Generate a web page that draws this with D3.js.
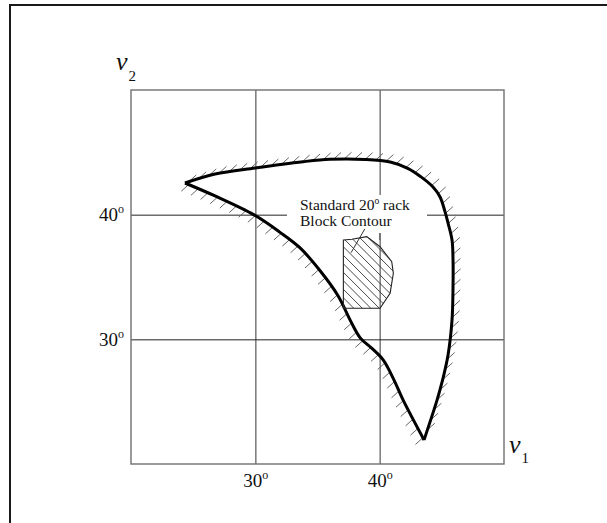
<!DOCTYPE html>
<html>
<head>
<meta charset="utf-8">
<script src="https://cdn.jsdelivr.net/npm/d3@7"></script>
<style>
  html, body { margin: 0; padding: 0; background: #fff; }
  svg { display: block; }
  text { font-family: "Liberation Serif", "DejaVu Serif", serif; fill: #111; }
</style>
</head>
<body>
<svg id="chart" width="607" height="523"></svg>
<script>
// Axis ranges and tick values (degrees)
const xDomain = [20, 50];
const yDomain = [20, 50];
const xTicks = [30, 40];
const yTicks = [30, 40];

// Feasible region boundary: upper / right edge, from the left tip to the bottom tip
const upperX = [24.34, 26.76, 29.98, 33.84, 36.01, 38.83, 40.85, 42.30, 43.30, 44.29, 44.86, 45.26, 45.50, 45.82, 45.90, 45.90, 45.82, 45.50, 45.02, 44.62, 43.57];
const upperY = [42.54, 43.26, 43.75, 44.25, 44.44, 44.43, 44.22, 43.70, 43.05, 42.22, 41.42, 40.22, 39.33, 37.97, 36.37, 34.20, 31.56, 28.75, 26.58, 25.14, 21.93];

// Lower / left edge, from the left tip to the bottom tip
const lowerX = [24.34, 26.76, 29.90, 31.99, 33.60, 35.21, 36.65, 37.70, 38.45, 39.40, 40.28, 41.10, 41.88, 43.57];
const lowerY = [42.54, 41.50, 39.98, 38.58, 37.33, 35.50, 33.50, 31.40, 30.10, 29.25, 28.35, 26.85, 25.14, 21.93];

// Standard 20° rack block contour
const blockX = [37.08, 37.76, 38.96, 40.03, 40.97, 41.10, 40.84, 40.03, 37.08];
const blockY = [37.97, 38.03, 38.24, 37.43, 36.23, 35.30, 33.70, 32.49, 32.49];

// Leader line from the annotation to the block
const leaderX = [38.80, 37.70];
const leaderY = [38.85, 36.95];

const labelLines = ["Standard 20", "Block Contour"];

const svg = d3.select("#chart");

// outer frame (partially off the right/bottom edges)
svg.append("path")
  .attr("d", "M10,530 L10,5 L615,5")
  .attr("fill", "none").attr("stroke", "#1a1a1a").attr("stroke-width", 2);

const margin = { left: 131, top: 90 };
const W = 373, H = 374;

const x = d3.scaleLinear().domain(xDomain).range([0, W]);
const y = d3.scaleLinear().domain(yDomain).range([H, 0]);

const g = svg.append("g").attr("transform", `translate(${margin.left},${margin.top})`);

// grid via axes
const xAxis = d3.axisBottom(x).tickValues(xTicks).tickSize(-H).tickPadding(8).tickFormat(d => d);
const yAxis = d3.axisLeft(y).tickValues(yTicks).tickSize(-W).tickPadding(7).tickFormat(d => d);

const gx = g.append("g").attr("transform", `translate(0,${H})`).call(xAxis);
const gy = g.append("g").call(yAxis);
[gx, gy].forEach(a => a.select(".domain").remove());
gx.selectAll(".tick line").attr("stroke", "#6f6f6f").attr("stroke-width", 1.4);
gy.selectAll(".tick line").attr("stroke", "#222").attr("stroke-width", 1);

function degreeLabel(sel) {
  sel.each(function(d) {
    const t = d3.select(this);
    t.text(null).attr("font-size", 19).attr("fill", "#111")
      .attr("font-family", "Liberation Serif, serif");
    t.append("tspan").text(d);
    t.append("tspan").text("o").attr("font-size", 12).attr("dy", -8);
  });
}
gx.selectAll(".tick text").call(degreeLabel).attr("dy", null).attr("y", 23);
gy.selectAll(".tick text").call(degreeLabel).attr("dy", "0.32em").attr("x", -7);

// plot frame
g.append("rect").attr("x", 0).attr("y", 0).attr("width", W).attr("height", H)
  .attr("fill", "none").attr("stroke", "#6f6f6f").attr("stroke-width", 1.4);

// boundary curves
const line = d3.line().x(d => x(d[0])).y(d => y(d[1])).curve(d3.curveCatmullRom.alpha(0.5));
const upper = upperX.map((v, i) => [v, upperY[i]]);
const lower = lowerX.map((v, i) => [v, lowerY[i]]);

const hatchG = g.append("g");
const curveG = g.append("g");

function drawEdge(pts, side) {
  const p = curveG.append("path").attr("d", line(pts))
    .attr("fill", "none").attr("stroke", "#000").attr("stroke-width", 3)
    .attr("stroke-linejoin", "round");
  const node = p.node();
  const len = node.getTotalLength();
  const step = 10.5, L = 10;
  for (let s = 4; s < len - 2; s += step) {
    const a = node.getPointAtLength(Math.max(0, s - 1));
    const b = node.getPointAtLength(Math.min(len, s + 1));
    const tx = b.x - a.x, ty = b.y - a.y;
    const m = Math.hypot(tx, ty) || 1;
    // outward normal
    const nx = side * ty / m, ny = -side * tx / m;
    let dx = 0.74, dy = -0.67;
    if (nx * dx + ny * dy < 0) { dx = -dx; dy = -dy; }
    const c = node.getPointAtLength(s);
    hatchG.append("line")
      .attr("x1", c.x).attr("y1", c.y)
      .attr("x2", c.x + L * dx).attr("y2", c.y + L * dy)
      .attr("stroke", "#666").attr("stroke-width", 1);
  }
}
drawEdge(upper, 1);
drawEdge(lower, -1);

// annotation background (interrupts the grid)
g.append("rect")
  .attr("x", 287 - margin.left).attr("y", 195 - margin.top)
  .attr("width", 140).attr("height", 38)
  .attr("fill", "#fff");

// 40° vertical grid below the label
g.append("line")
  .attr("x1", x(40)).attr("x2", x(40))
  .attr("y1", 233 - margin.top).attr("y2", 240 - margin.top)
  .attr("stroke", "#6f6f6f").attr("stroke-width", 1.4);

// block contour with diagonal hatching
const block = blockX.map((v, i) => [v, blockY[i]]);
const defs = svg.append("defs");
defs.append("clipPath").attr("id", "blockClip")
  .append("path").attr("d", d3.line().x(d => x(d[0])).y(d => y(d[1]))(block) + "Z");

const bx0 = d3.min(block, d => x(d[0])), bx1 = d3.max(block, d => x(d[0]));
const by0 = d3.min(block, d => y(d[1])), by1 = d3.max(block, d => y(d[1]));
const hg = g.append("g").attr("clip-path", "url(#blockClip)");
for (let k = bx0 - (by1 - by0); k < bx1 + 2; k += 8.5) {
  hg.append("line")
    .attr("x1", k).attr("y1", by0 - 2)
    .attr("x2", k + (by1 - by0) + 4).attr("y2", by1 + 2)
    .attr("stroke", "#333").attr("stroke-width", 0.9);
}
g.append("path").attr("d", d3.line().x(d => x(d[0])).y(d => y(d[1]))(block) + "Z")
  .attr("fill", "none").attr("stroke", "#222").attr("stroke-width", 1.1);

// leader
g.append("line")
  .attr("x1", x(leaderX[0])).attr("y1", y(leaderY[0]))
  .attr("x2", x(leaderX[1])).attr("y2", y(leaderY[1]))
  .attr("stroke", "#333").attr("stroke-width", 1);

// annotation text
const t1 = g.append("text").attr("x", 300 - margin.left).attr("y", 210 - margin.top)
  .attr("font-size", 15.5);
t1.append("tspan").text(labelLines[0]);
t1.append("tspan").text("o").attr("font-size", 9.5).attr("dy", -6.5);
t1.append("tspan").text(" rack").attr("dy", 6.5);
g.append("text").attr("x", 300 - margin.left).attr("y", 225.5 - margin.top)
  .attr("font-size", 15.5).text(labelLines[1]);

// axis names
const v2 = svg.append("text").attr("x", 116).attr("y", 70).attr("font-size", 26).attr("font-style", "italic");
v2.append("tspan").text("v");
v2.append("tspan").text("2").attr("font-size", 15).attr("font-style", "normal").attr("dx", 1).attr("dy", 11);

const v1 = svg.append("text").attr("x", 509).attr("y", 453).attr("font-size", 26).attr("font-style", "italic");
v1.append("tspan").text("v");
v1.append("tspan").text("1").attr("font-size", 15).attr("font-style", "normal").attr("dx", 1).attr("dy", 10);
</script>
</body>
</html>
